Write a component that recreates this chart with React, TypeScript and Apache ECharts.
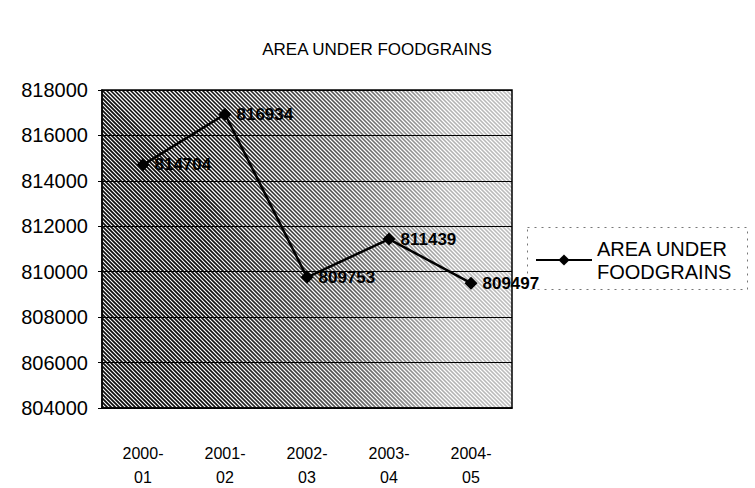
import React, { useEffect, useRef } from "react";
import * as echarts from "echarts";

const TITLE = "AREA UNDER FOODGRAINS";
const SERIES_NAME = "AREA UNDER FOODGRAINS";
const categories = ["2000-\n01", "2001-\n02", "2002-\n03", "2003-\n04", "2004-\n05"];
const values = [814704, 816934, 809753, 811439, 809497];
const yMin = 804000;
const yMax = 818000;
const yStep = 2000;

function makeHatch(): HTMLCanvasElement {
  const c = document.createElement("canvas");
  c.width = 755;
  c.height = 488;
  const ctx = c.getContext("2d")!;
  ctx.fillStyle = "#ffffff";
  ctx.fillRect(0, 0, c.width, c.height);
  ctx.strokeStyle = "#000000";
  ctx.lineWidth = 1.6;
  for (let k = -600; k < 800; k += 4) {
    ctx.beginPath();
    ctx.moveTo(k, 0);
    ctx.lineTo(k + 600, 600);
    ctx.stroke();
  }
  const g = ctx.createLinearGradient(102, 0, 512, 0);
  g.addColorStop(0, "rgba(255,255,255,0.05)");
  g.addColorStop(0.35, "rgba(255,255,255,0.35)");
  g.addColorStop(0.6, "rgba(255,255,255,0.7)");
  g.addColorStop(1, "rgba(255,255,255,0.82)");
  ctx.fillStyle = g;
  ctx.fillRect(0, 0, c.width, c.height);
  return c;
}

export default function App() {
  const ref = useRef<HTMLDivElement>(null);
  useEffect(() => {
    if (!ref.current) return;
    const chart = echarts.init(ref.current, null, { renderer: "svg" });
    const hatch = makeHatch();
    chart.setOption({
      animation: false,
      backgroundColor: "#ffffff",
      textStyle: { fontFamily: "Liberation Sans, Arial, sans-serif", color: "#000" },
      title: {
        text: TITLE,
        left: 372,
        textAlign: "center",
        top: 36,
        textStyle: { fontSize: 17, fontWeight: "normal", color: "#000" },
      },
      legend: {
        left: 530,
        top: 232,
        orient: "vertical",
        itemWidth: 56,
        itemHeight: 14,
        itemGap: 0,
        data: [SERIES_NAME],
        formatter: () => "AREA UNDER\nFOODGRAINS",
        textStyle: { fontSize: 20, color: "#000", lineHeight: 23 },
      },
      graphic: [
        {
          type: "rect",
          left: 525,
          top: 225,
          shape: { width: 220, height: 62 },
          style: { fill: "none", stroke: "#777", lineWidth: 1, lineDash: [2, 5] },
        },
      ],
      grid: {
        left: 102,
        right: 243,
        top: 90,
        bottom: 80,
        outerBoundsMode: "none",
        containLabel: false,
        show: true,
        borderColor: "#000",
        borderWidth: 1.5,
        backgroundColor: { image: hatch, repeat: "no-repeat" },
      },
      xAxis: {
        type: "category",
        data: categories,
        boundaryGap: true,
        axisLine: { lineStyle: { color: "#000", width: 1.5 } },
        axisTick: { show: false },
        axisLabel: { interval: 0, fontSize: 16, color: "#000", margin: 33, lineHeight: 24 },
      },
      yAxis: {
        type: "value",
        min: yMin,
        max: yMax,
        interval: yStep,
        axisLine: { show: true, lineStyle: { color: "#000", width: 1.5 } },
        axisTick: { show: true, inside: false, length: 4, lineStyle: { color: "#000" } },
        axisLabel: { fontSize: 20, color: "#000", margin: 14, formatter: (v: number) => String(v) },
        splitLine: { show: true, lineStyle: { color: "#000", width: 1.2 } },
      },
      series: [
        {
          name: SERIES_NAME,
          type: "line",
          data: values,
          symbol: "diamond",
          symbolSize: 13,
          lineStyle: { color: "#000", width: 2.5 },
          itemStyle: { color: "#000" },
          label: {
            show: true,
            position: "right",
            distance: 5,
            fontSize: 17,
            fontWeight: "bold",
            color: "#000",
          },
        },
      ],
    });
    return () => chart.dispose();
  }, []);
  return (
    <div
      ref={ref}
      style={{ position: "absolute", left: 0, top: 0, width: 755, height: 488 }}
    />
  );
}
